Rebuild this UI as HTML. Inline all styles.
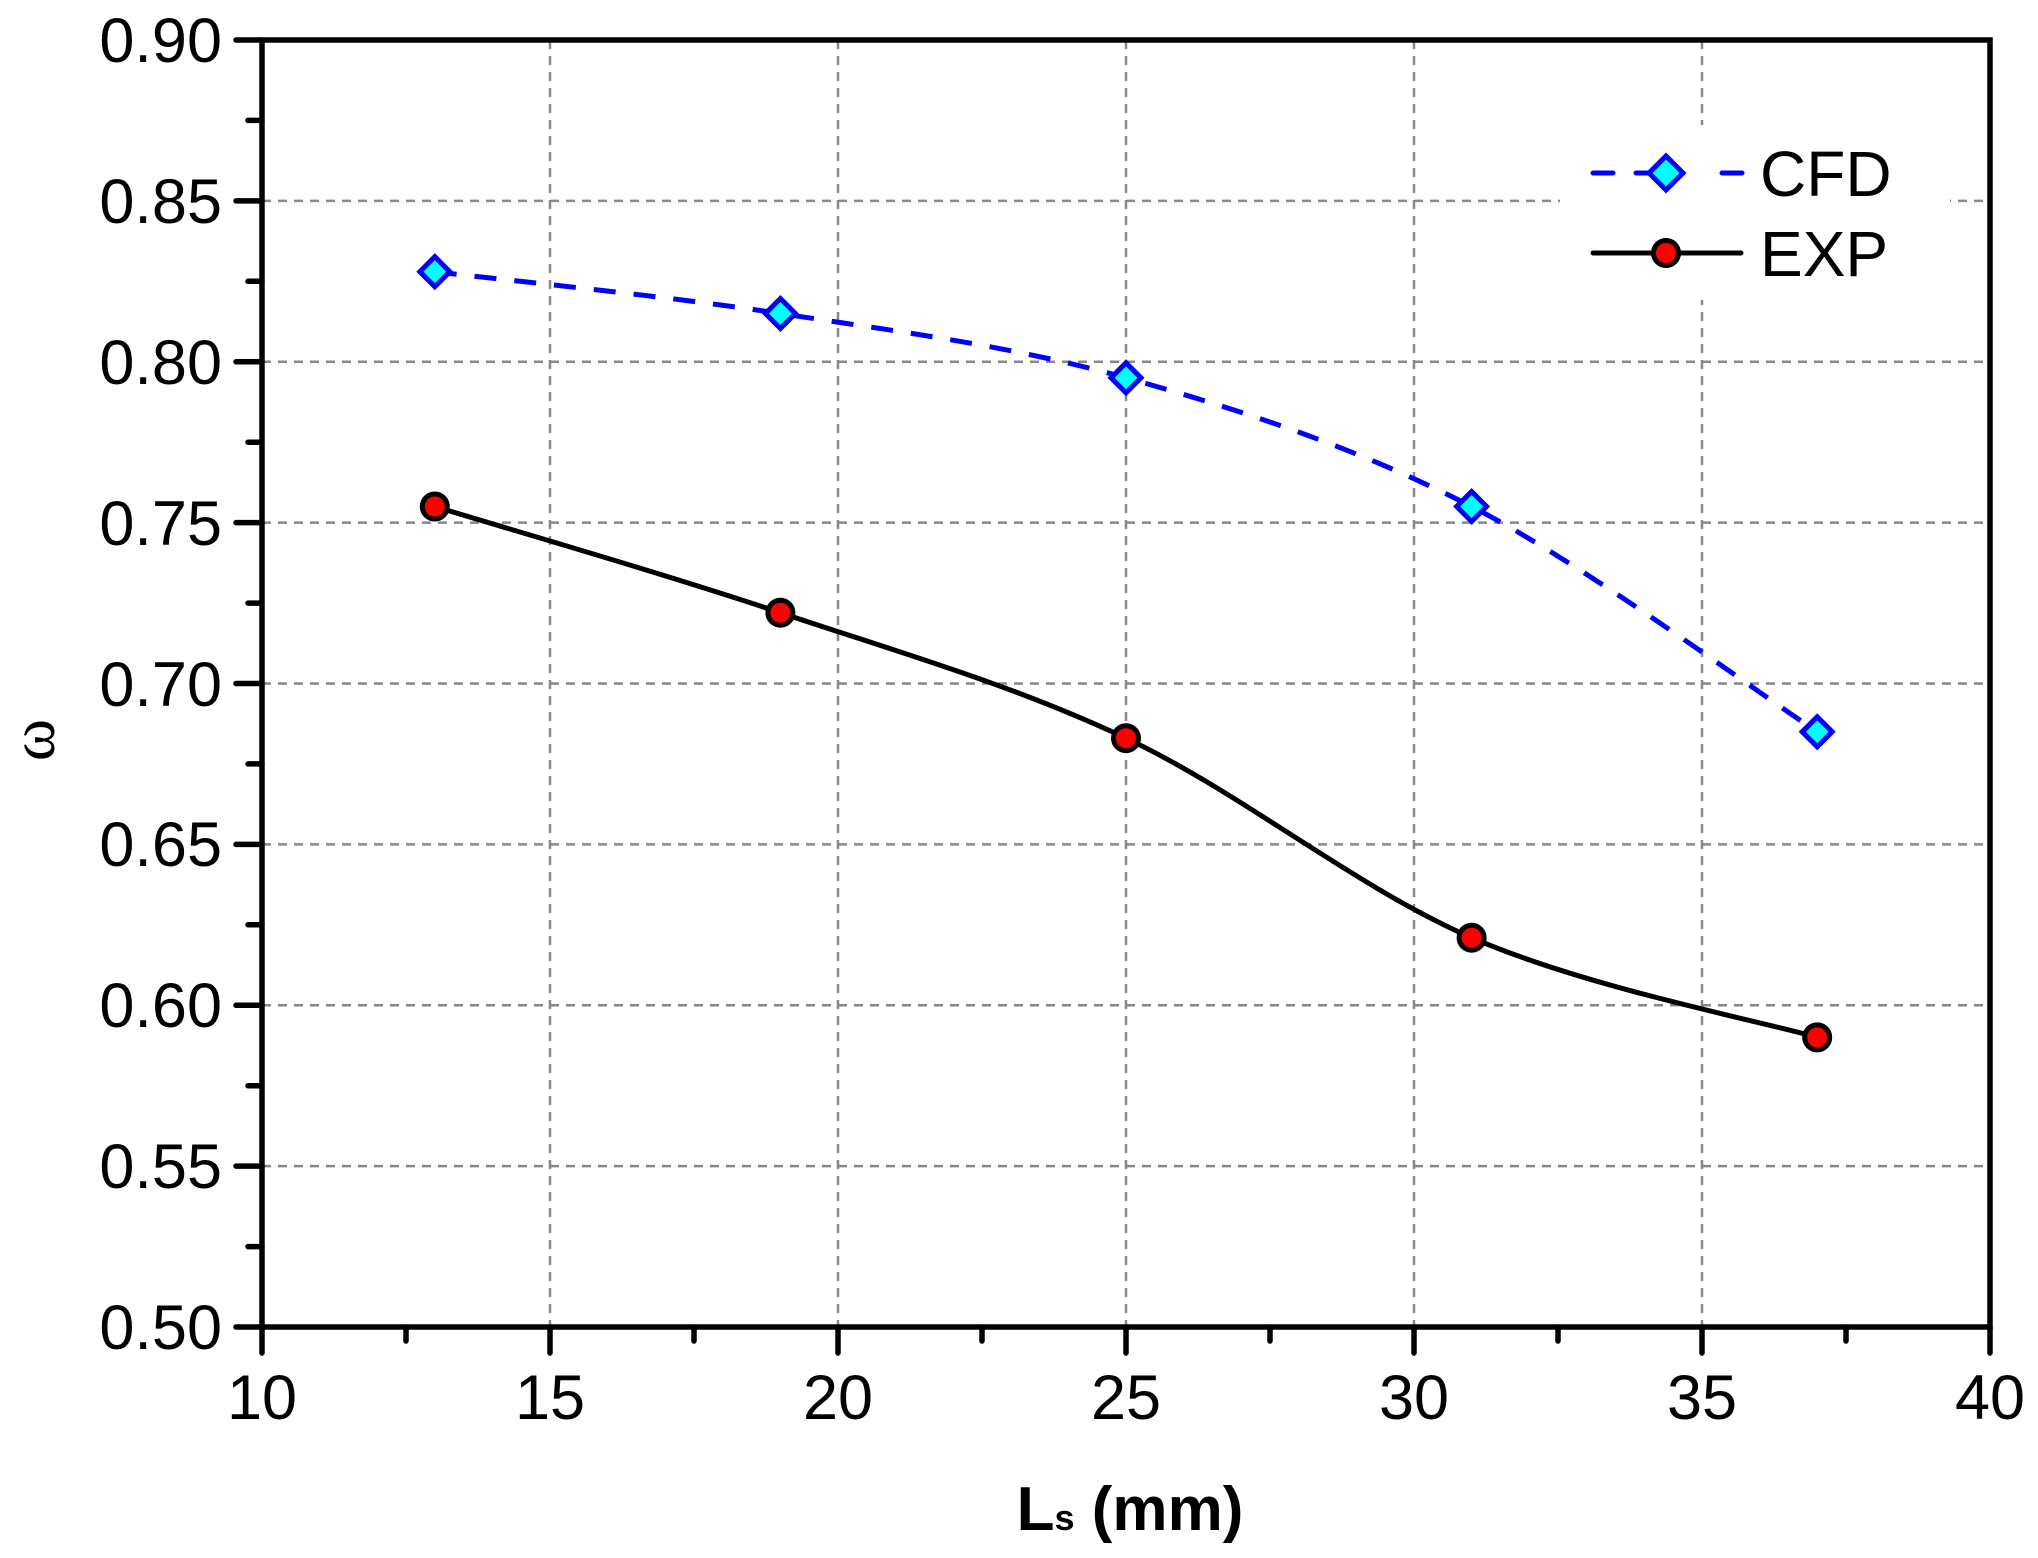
<!DOCTYPE html>
<html><head><style>body{margin:0;background:#fff}</style></head><body>
<svg width="2038" height="1553" xmlns="http://www.w3.org/2000/svg" font-family="Liberation Sans, Arial, sans-serif">
<rect width="2038" height="1553" fill="#fff"/>
<g stroke="#888" stroke-width="2.5" stroke-dasharray="9,7">
<line x1="262" y1="200.9" x2="1990" y2="200.9"/><line x1="262" y1="361.8" x2="1990" y2="361.8"/><line x1="262" y1="522.6" x2="1990" y2="522.6"/><line x1="262" y1="683.5" x2="1990" y2="683.5"/><line x1="262" y1="844.4" x2="1990" y2="844.4"/><line x1="262" y1="1005.3" x2="1990" y2="1005.3"/><line x1="262" y1="1166.1" x2="1990" y2="1166.1"/>
<line x1="550" y1="40" x2="550" y2="1327"/><line x1="838" y1="40" x2="838" y2="1327"/><line x1="1126" y1="40" x2="1126" y2="1327"/><line x1="1414" y1="40" x2="1414" y2="1327"/><line x1="1702" y1="40" x2="1702" y2="1327"/>
</g>
<rect x="1560" y="125" width="390" height="175" fill="#fff"/>
<g stroke="#000" stroke-width="5.5" fill="none" stroke-linecap="round">
<rect x="262" y="40" width="1728" height="1287"/>
<path d="M262 40h-26M262 200.9h-26M262 361.8h-26M262 522.6h-26M262 683.5h-26M262 844.4h-26M262 1005.3h-26M262 1166.1h-26M262 1327h-26"/>
<path d="M262 120.4h-14M262 281.3h-14M262 442.2h-14M262 603.1h-14M262 763.9h-14M262 924.8h-14M262 1085.7h-14M262 1246.6h-14"/>
<path d="M262 1327v26M550 1327v26M838 1327v26M1126 1327v26M1414 1327v26M1702 1327v26M1990 1327v26"/>
<path d="M406 1327v14M694 1327v14M982 1327v14M1270 1327v14M1558 1327v14M1846 1327v14"/>
</g>
<g font-size="63" text-anchor="end">
<text x="222" y="62">0.90</text><text x="222" y="223">0.85</text><text x="222" y="384">0.80</text><text x="222" y="545">0.75</text><text x="222" y="706">0.70</text><text x="222" y="866">0.65</text><text x="222" y="1027">0.60</text><text x="222" y="1188">0.55</text><text x="222" y="1349">0.50</text>
</g>
<g font-size="63" text-anchor="middle">
<text x="262" y="1419">10</text><text x="550" y="1419">15</text><text x="838" y="1419">20</text><text x="1126" y="1419">25</text><text x="1414" y="1419">30</text><text x="1702" y="1419">35</text><text x="1990" y="1419">40</text>
</g>
<text x="1130" y="1530" font-size="62" font-weight="bold" text-anchor="middle">L<tspan font-size="36">s</tspan> (mm)</text>
<text transform="translate(54,740) rotate(-90)" font-size="64" font-family="Liberation Serif, serif" text-anchor="middle">ω</text>
<path d="M434.8 271.7C492.4 278.7 665.2 295.8 780.4 313.5C895.6 331.2 1010.8 345.6 1126 377.8C1241.2 410 1356.4 447.5 1471.6 506.5C1586.8 565.5 1759.6 694.2 1817.2 731.8" fill="none" stroke="#0000ff" stroke-width="5" stroke-dasharray="22,18"/>
<path d="M434.8 506.5C492.4 524.2 665.2 574.1 780.4 612.7C895.6 651.3 1010.8 684 1126 738.2C1241.2 792.4 1356.4 887.8 1471.6 937.7C1586.8 987.6 1759.6 1020.8 1817.2 1037.4" fill="none" stroke="#000" stroke-width="5"/>
<g fill="#00ffff" stroke="#0000ff" stroke-width="5">
<path d="M434.8 256.7l15 15-15 15-15-15z"/><path d="M780.4 298.5l15 15-15 15-15-15z"/><path d="M1126 362.8l15 15-15 15-15-15z"/><path d="M1471.6 491.5l15 15-15 15-15-15z"/><path d="M1817.2 716.8l15 15-15 15-15-15z"/>
</g>
<g fill="#ff0000" stroke="#000" stroke-width="5">
<circle cx="434.8" cy="506.5" r="12.5"/><circle cx="780.4" cy="612.7" r="12.5"/><circle cx="1126" cy="738.2" r="12.5"/><circle cx="1471.6" cy="937.7" r="12.5"/><circle cx="1817.2" cy="1037.4" r="12.5"/>
</g>
<path d="M1593 173h20M1636 173h44M1722 173h20" stroke="#0000ff" stroke-width="5" stroke-linecap="round"/>
<path d="M1666 156l17 17-17 17-17-17z" fill="#00ffff" stroke="#0000ff" stroke-width="5"/>
<path d="M1593 253h148" stroke="#000" stroke-width="5" stroke-linecap="round"/>
<circle cx="1666" cy="253" r="12.5" fill="#ff0000" stroke="#000" stroke-width="5"/>
<g font-size="64"><text x="1760" y="196">CFD</text><text x="1760" y="276">EXP</text></g>
</svg>
</body></html>
